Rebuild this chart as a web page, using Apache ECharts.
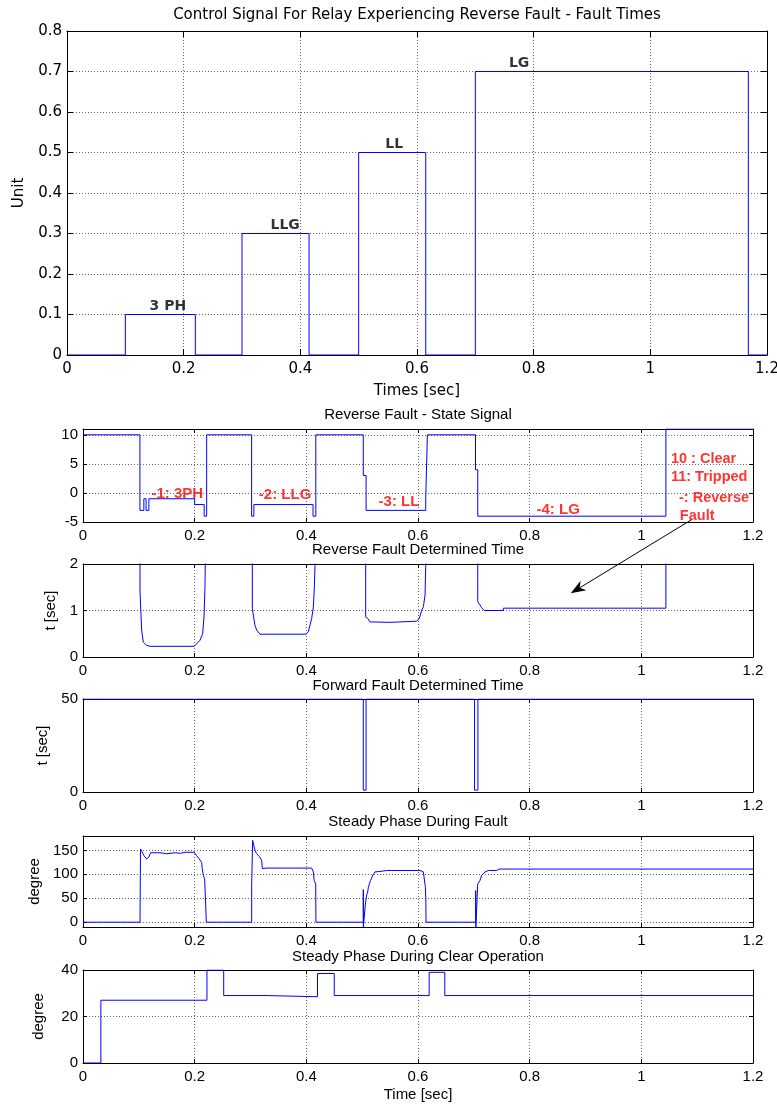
<!DOCTYPE html>
<html><head><meta charset="utf-8">
<script src="https://cdn.jsdelivr.net/npm/echarts@6/dist/echarts.min.js"></script>
<style>html,body{margin:0;padding:0;background:#fff}#c{width:777px;height:1105px}</style>
</head><body><div id="c"></div>
<script>
// ================= DATA =================
// Top: control signal (zero-order hold)
const controlT = [0, 0.1, 0.22, 0.3, 0.415, 0.5, 0.615, 0.7, 1.168, 1.2];
const controlV = [0, 0.1, 0, 0.3, 0, 0.5, 0, 0.7, 0, 0];
const faultNames = ['3 PH', 'LLG', 'LL', 'LG'];
const faultNameT = [0.173, 0.374, 0.561, 0.775];
const faultNameV = [0.1, 0.3, 0.5, 0.7];

// Reverse fault - state signal (zero-order hold)
const stateT = [0, 0.102, 0.109, 0.113, 0.118, 0.2, 0.217, 0.2215, 0.302, 0.306, 0.412, 0.417, 0.502, 0.507, 0.6138, 0.6168, 0.703, 0.707, 1.044, 1.2];
const stateV = [10, -3, -1, -3, -1, -2, -4, 10, -4, -2, -4, 10, 3, -3, -1, 10, 4, -4, 11, 11];
const stateNames = ['-1: 3PH', '-2: LLG', '-3: LL', '-4: LG'];
const stateNameT = [0.169, 0.362, 0.566, 0.851];
const stateNameV = [-0.1, -0.35, -1.6, -2.9];
const keyNames = ['10 : Clear', '11: Tripped', '-: Reverse', 'Fault'];
const keyT = [1.053, 1.053, 1.0675, 1.069];
const keyV = [5.9, 2.7, -0.8, -4.0];
const arrowFrom = [1.09, -4.6];   // in state-signal axes
const arrowTo = [0.8735, 1.37];   // in reverse-time axes

// Reverse fault determined time [t, sec] (values above 2 are off scale)
const reverseTime = [
  [0, 50], [0.1021, 50], [0.1021, 1.42], [0.1027, 1.40], [0.105, 0.58], [0.108, 0.32], [0.114, 0.25], [0.120, 0.23],
  [0.1994, 0.23], [0.2096, 0.36], [0.2143, 0.50], [0.2167, 0.86], [0.2185, 1.51], [0.219, 2.0], [0.219, 50],
  [0.3033, 50], [0.3033, 1.04], [0.306, 1.02], [0.308, 0.68], [0.311, 0.58], [0.317, 0.49], [0.3994, 0.49],
  [0.4036, 0.54], [0.4096, 0.83], [0.4126, 1.08], [0.4144, 1.51], [0.4156, 2.0], [0.4156, 50],
  [0.5063, 50], [0.5063, 0.86], [0.5099, 0.83], [0.514, 0.755], [0.5499, 0.745], [0.5499, 0.77], [0.5977, 0.77],
  [0.6024, 0.83], [0.6066, 1.0], [0.6096, 1.08], [0.6126, 1.33], [0.6138, 1.94], [0.614, 2.0], [0.614, 50],
  [0.707, 50], [0.707, 1.19], [0.711, 1.12], [0.714, 1.06], [0.7186, 1.0], [0.7529, 1.0], [0.7529, 1.05],
  [1.044, 1.05], [1.044, 50], [1.2, 50]
];

// Forward fault determined time (zero-order hold)
const forwardT = [0, 0.502, 0.507, 0.7013, 0.7073, 1.2];
const forwardV = [50, 1, 50, 1, 50, 50];

// Steady phase during fault [degree]
const phaseFault = [
  [0, 0], [0.1021, 0], [0.103, 153], [0.105, 150], [0.1093, 139], [0.1139, 132], [0.118, 136], [0.121, 145],
  [0.124, 144], [0.138, 145], [0.15, 143], [0.165, 145], [0.175, 144], [0.1827, 146], [0.1994, 146],
  [0.2036, 139], [0.2083, 132], [0.2125, 125], [0.2135, 112], [0.2155, 98], [0.2179, 90.6], [0.2203, 87], [0.2209, 0],
  [0.3021, 0], [0.3021, 77], [0.3033, 77], [0.3038, 171], [0.3062, 169], [0.308, 150], [0.311, 143], [0.316, 137],
  [0.320, 129], [0.3213, 112], [0.3243, 110], [0.329, 113], [0.4096, 113], [0.4126, 105], [0.414, 87], [0.4168, 80], [0.4172, 0],
  [0.502, 0], [0.502, 68], [0.5022, -10], [0.5055, -10], [0.5058, 38], [0.507, 40], [0.5081, 57], [0.5099, 63],
  [0.511, 72], [0.5128, 80], [0.515, 87], [0.520, 100], [0.523, 105], [0.532, 106], [0.544, 108], [0.6036, 108],
  [0.6096, 105], [0.6126, 102], [0.6132, 73], [0.614, 49], [0.6144, 0],
  [0.7033, 0], [0.7033, 66], [0.7036, -10], [0.7068, -10], [0.707, 80], [0.711, 87], [0.714, 98], [0.72, 105],
  [0.726, 108], [0.741, 108], [0.7457, 111], [1.2, 111]
];

// Steady phase during clear operation (zero-order hold)
const clearT = [0, 0.032, 0.222, 0.252, 0.33, 0.42, 0.45, 0.62, 0.648, 1.2];
const clearV = [0, 27, 40, 29, 28.5, 38.5, 29, 39, 29, 29];

// ================= CHART =================
const zip = (a, b) => a.map((v, i) => [v, b[i]]);
const ARIAL = 'Liberation Sans, Arial, sans-serif';
const DEJA = 'DejaVu Sans, sans-serif';
const BLUE = '#0000ff';
const GRIDC = '#6a6a6a';

const grids = [
  { left: 67, top: 31, width: 700, height: 324 },
  { left: 83, top: 429, width: 670, height: 93 },
  { left: 83, top: 564, width: 670, height: 93 },
  { left: 83, top: 699, width: 670, height: 93 },
  { left: 83, top: 836, width: 670, height: 91 },
  { left: 83, top: 970, width: 670, height: 93 }
].map(g => Object.assign(g, { containLabel: false, outerBoundsMode: 'none' }));

const xAxes = [], yAxes = [];
function addAxes(g, cfg) {
  const font = cfg.font, fs = cfg.fs, tl = cfg.tick;
  const split = { show: true, lineStyle: { color: GRIDC, type: [1, 2], width: 1 } };
  const line = { show: true, onZero: false, lineStyle: { color: '#000', width: 1 } };
  xAxes.push({
    gridIndex: g, type: 'value', min: 0, max: 1.2, interval: 0.2, position: 'bottom',
    axisLine: line, axisTick: { inside: true, length: tl, lineStyle: { color: '#000' } },
    axisLabel: { color: '#000', fontSize: fs, fontFamily: font, margin: cfg.xMargin },
    splitLine: split,
    name: cfg.xName || '', nameLocation: 'middle', nameGap: cfg.xNameGap || 20,
    nameTextStyle: { color: '#000', fontSize: fs, fontFamily: font }
  });
  xAxes.push({
    gridIndex: g, type: 'value', min: 0, max: 1.2, interval: 0.2, position: 'top',
    axisLine: line, axisTick: { inside: true, length: tl, lineStyle: { color: '#000' } },
    axisLabel: { show: false }, splitLine: { show: false }
  });
  const yBase = {
    gridIndex: g, type: 'value', min: cfg.yMin, max: cfg.yMax
  };
  if (cfg.yInterval) yBase.interval = cfg.yInterval;
  if (cfg.ySplit) yBase.splitNumber = cfg.ySplit;
  const fmt = cfg.yStep ? (v => (Math.abs(v / cfg.yStep - Math.round(v / cfg.yStep)) < 1e-6 ? String(+v.toFixed(2)) : '')) : undefined;
  yAxes.push(Object.assign({}, yBase, {
    position: 'left',
    axisLine: line, axisTick: { inside: true, length: tl, lineStyle: { color: '#000' } },
    axisLabel: { color: '#000', fontSize: fs, fontFamily: font, margin: cfg.yMargin, formatter: fmt,
                 showMaxLabel: cfg.hideMax ? false : null, showMinLabel: cfg.hideMin ? false : null },
    splitLine: split,
    name: cfg.yName || '', nameLocation: 'middle', nameGap: cfg.yNameGap || 30,
    nameTextStyle: { color: '#000', fontSize: fs, fontFamily: font }
  }));
  yAxes.push(Object.assign({}, yBase, {
    position: 'right',
    axisLine: line, axisTick: { inside: true, length: tl, lineStyle: { color: '#000' } },
    axisLabel: { show: false }, splitLine: { show: false }
  }));
}

addAxes(0, { font: DEJA, fs: 15, tick: 6, xMargin: 7, yMargin: 5, yMin: 0, yMax: 0.8, yInterval: 0.1,
             xName: 'Times [sec]', xNameGap: 29, yName: 'Unit', yNameGap: 40 });
addAxes(1, { font: ARIAL, fs: 15, tick: 4, xMargin: 6, yMargin: 5, yMin: -5, yMax: 11, yInterval: 5, yStep: 5, hideMax: true });
addAxes(2, { font: ARIAL, fs: 15, tick: 4, xMargin: 6, yMargin: 5, yMin: 0, yMax: 2, yInterval: 1,
             yName: 't [sec]', yNameGap: 20 });
addAxes(3, { font: ARIAL, fs: 15, tick: 4, xMargin: 6, yMargin: 5, yMin: 0, yMax: 50, yInterval: 50,
             yName: 't [sec]', yNameGap: 29 });
addAxes(4, { font: ARIAL, fs: 15, tick: 4, xMargin: 6, yMargin: 5, yMin: -10, yMax: 180, ySplit: 4, yStep: 50,
             hideMax: true, hideMin: true, yName: 'degree', yNameGap: 37 });
addAxes(5, { font: ARIAL, fs: 15, tick: 4, xMargin: 6, yMargin: 5, yMin: 0, yMax: 40, yInterval: 20,
             xName: 'Time [sec]', xNameGap: 24, yName: 'degree', yNameGap: 37 });

function lineSeries(g, data, step) {
  return {
    type: 'line', xAxisIndex: 2 * g, yAxisIndex: 2 * g, data: data, step: step || false,
    showSymbol: false, symbol: 'none', clip: true, animation: false,
    lineStyle: { color: BLUE, width: 1 }, silent: true
  };
}
function labelSeries(g, names, ts, vs, style) {
  return {
    type: 'scatter', xAxisIndex: 2 * g, yAxisIndex: 2 * g, symbolSize: 0, silent: true, animation: false,
    data: names.map((n, i) => ({ name: n, value: [ts[i], vs[i]] })),
    label: Object.assign({ show: true, formatter: p => p.name }, style)
  };
}

const series = [
  lineSeries(0, zip(controlT, controlV), 'end'),
  labelSeries(0, faultNames, faultNameT, faultNameV, {
    position: 'top', distance: 1, color: '#000', fontWeight: 'bold', fontSize: 14, fontFamily: DEJA, lineHeight: 15 }),
  lineSeries(1, zip(stateT, stateV), 'end'),
  labelSeries(1, stateNames, stateNameT, stateNameV, {
    position: [0, 0], align: 'center', verticalAlign: 'middle', color: '#ff0000', fontWeight: 'bold', fontSize: 15, fontFamily: ARIAL }),
  labelSeries(1, keyNames, keyT, keyV, {
    position: [0, 0], align: 'left', verticalAlign: 'middle', color: '#ff0000', fontWeight: 'bold', fontSize: 14.5, fontFamily: ARIAL }),
  lineSeries(2, reverseTime),
  lineSeries(3, zip(forwardT, forwardV), 'end'),
  lineSeries(4, phaseFault),
  lineSeries(5, zip(clearT, clearV), 'end')
];

const titles = [
  { text: 'Control Signal For Relay Experiencing Reverse Fault - Fault Times', x: 417, y: 15, font: DEJA },
  { text: 'Reverse Fault - State Signal', x: 418, y: 415, font: ARIAL },
  { text: 'Reverse Fault Determined Time', x: 418, y: 550, font: ARIAL },
  { text: 'Forward Fault Determined Time', x: 418, y: 686, font: ARIAL },
  { text: 'Steady Phase During Fault', x: 418, y: 822, font: ARIAL },
  { text: 'Steady Phase During Clear Operation', x: 418, y: 957, font: ARIAL }
];
const titleGraphics = titles.map(t => ({
  type: 'text', x: t.x, y: t.y, silent: true,
  style: { text: t.text, fill: '#000', font: '15px ' + t.font, textAlign: 'center', textVerticalAlign: 'middle' }
}));

const chart = echarts.init(document.getElementById('c'), null, { renderer: 'canvas' });
chart.setOption({
  backgroundColor: '#fff',
  animation: false,
  grid: grids,
  xAxis: xAxes,
  yAxis: yAxes,
  series: series,
  graphic: titleGraphics
});

// Arrow (data coordinates -> pixels)
const p0 = chart.convertToPixel({ seriesIndex: 2 }, arrowFrom);
const p1 = chart.convertToPixel({ seriesIndex: 5 }, arrowTo);
const dx = p1[0] - p0[0], dy = p1[1] - p0[1];
const L = Math.hypot(dx, dy), ux = dx / L, uy = dy / L, nx = -uy, ny = ux;
const hl = 15, hw = 5.5;
const base = [p1[0] - ux * hl, p1[1] - uy * hl];
const notch = [p1[0] - ux * hl * 0.7, p1[1] - uy * hl * 0.7];
const arrowGraphics = [
  { type: 'line', silent: true, shape: { x1: p0[0], y1: p0[1], x2: notch[0], y2: notch[1] }, style: { stroke: '#000', lineWidth: 1 } },
  { type: 'polygon', silent: true, shape: { points: [p1, [base[0] + nx * hw, base[1] + ny * hw], notch, [base[0] - nx * hw, base[1] - ny * hw]] },
    style: { fill: '#000' } }
];
chart.setOption({ graphic: titleGraphics.concat(arrowGraphics) }, { replaceMerge: ['graphic'] });
</script>
</body></html>
